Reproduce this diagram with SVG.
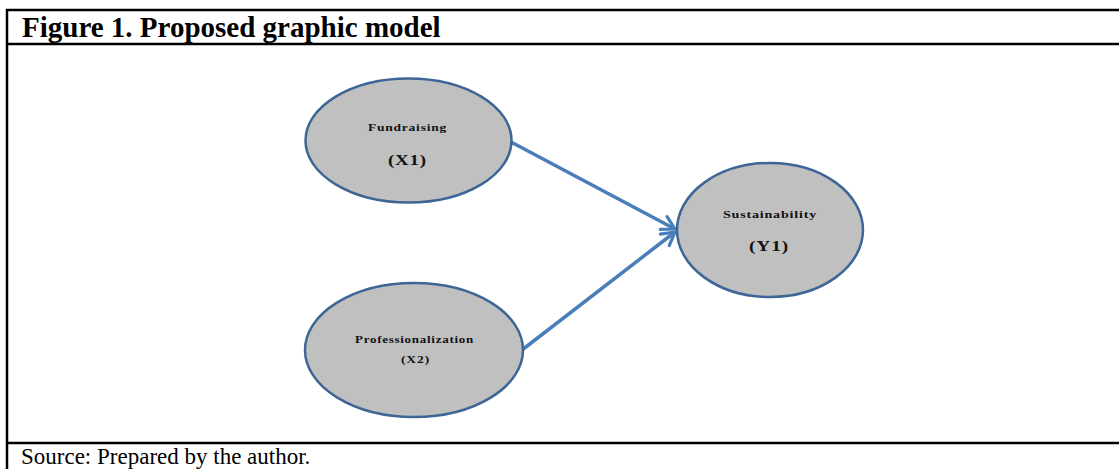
<svg xmlns="http://www.w3.org/2000/svg" width="1119" height="469" viewBox="0 0 1119 469">
<style>
.frame{stroke:#000;stroke-width:2.5;fill:none}
.node{fill:#c0c0c0;stroke:#3d6596;stroke-width:2.5}
.lbl{font-family:"Liberation Serif",serif;font-weight:bold;fill:#111;text-anchor:middle;letter-spacing:0.6px}
.edge{stroke:#4a7ebb;stroke-width:3.5;fill:none}
</style>
<defs>
<marker id="arr" viewBox="0 0 12 12" refX="10" refY="6" markerWidth="5.5" markerHeight="5.5" markerUnits="strokeWidth" orient="auto">
<path d="M2,1.5 L10,6 L2,10.5" fill="none" stroke="#4a7ebb" stroke-width="2" stroke-linecap="round" stroke-linejoin="round"/>
</marker>
</defs>
<rect width="1119" height="469" fill="#fff"/>
<g id="frame">
<line class="frame" x1="6" y1="10" x2="1119" y2="10"/>
<line class="frame" x1="6" y1="44" x2="1119" y2="44"/>
<line class="frame" x1="6" y1="443" x2="1119" y2="443"/>
<line class="frame" x1="7" y1="9" x2="7" y2="469"/>
<text x="22" y="37" font-family="'Liberation Serif',serif" font-weight="bold" font-size="29" fill="#000">Figure 1. Proposed graphic model</text>
<text x="21" y="464" font-family="'Liberation Serif',serif" font-size="23" fill="#000">Source: Prepared by the author.</text>
</g>
<g id="connectors">
<line class="edge" x1="511" y1="142" x2="675" y2="229" marker-end="url(#arr)"/>
<line class="edge" x1="522" y1="350" x2="675" y2="232" marker-end="url(#arr)"/>
</g>
<g id="n-x1">
<ellipse class="node" cx="408.5" cy="140.5" rx="103" ry="62"/>
<text class="lbl" x="407.5" y="131" font-size="10.5" textLength="79" lengthAdjust="spacingAndGlyphs">Fundraising</text>
<text class="lbl" x="407.5" y="165" font-size="14" textLength="39" lengthAdjust="spacingAndGlyphs">(X1)</text>
</g>
<g id="n-x2">
<ellipse class="node" cx="414" cy="350" rx="109" ry="67"/>
<text class="lbl" x="414.5" y="343" font-size="10.5" textLength="119" lengthAdjust="spacingAndGlyphs">Professionalization</text>
<text class="lbl" x="415.5" y="363" font-size="9.5" textLength="29" lengthAdjust="spacingAndGlyphs">(X2)</text>
</g>
<g id="n-y1">
<ellipse class="node" cx="770" cy="230" rx="93" ry="67"/>
<text class="lbl" x="770" y="218" font-size="10.5" textLength="94" lengthAdjust="spacingAndGlyphs">Sustainability</text>
<text class="lbl" x="769" y="251" font-size="14" textLength="40" lengthAdjust="spacingAndGlyphs">(Y1)</text>
</g>
</svg>
